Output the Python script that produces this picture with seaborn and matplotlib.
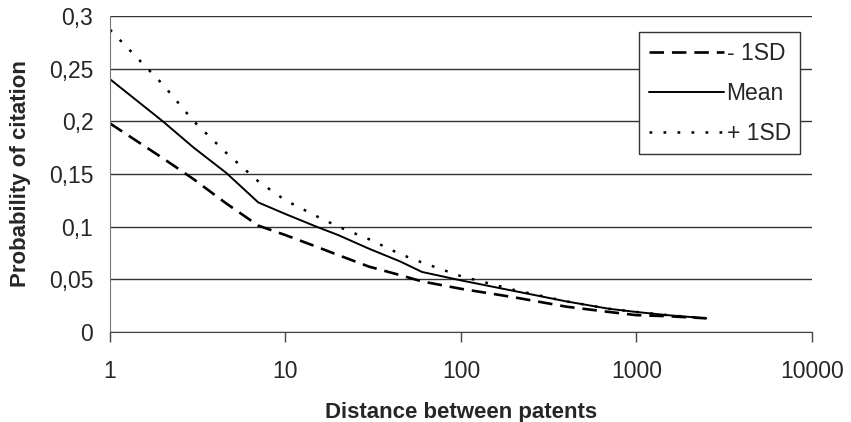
import matplotlib
matplotlib.use("Agg")
import matplotlib.pyplot as plt
import matplotlib.ticker as mticker
import seaborn as sns
import pandas as pd

# values
distance = [1, 2, 3, 4.6, 7, 10, 15, 20, 30, 45, 60, 100, 200, 400, 700, 1000, 1500, 2500]
minus_sd = [0.198, 0.165, 0.145, 0.122, 0.101, 0.092, 0.081, 0.073, 0.062, 0.054, 0.048,
            0.041, 0.033, 0.024, 0.019, 0.016, 0.015, 0.013]
mean = [0.240, 0.200, 0.175, 0.151, 0.123, 0.112, 0.100, 0.092, 0.079, 0.067, 0.057,
        0.049, 0.039, 0.029, 0.022, 0.019, 0.016, 0.013]
plus_sd = [0.287, 0.235, 0.200, 0.170, 0.143, 0.125, 0.110, 0.100, 0.088, 0.074, 0.066,
           0.053, 0.040, 0.029, 0.022, 0.019, 0.016, 0.013]

y_ticks = [0, 0.05, 0.1, 0.15, 0.2, 0.25, 0.3]
y_labels = ["0", "0,05", "0,1", "0,15", "0,2", "0,25", "0,3"]
x_ticks = [1, 10, 100, 1000, 10000]
x_labels = ["1", "10", "100", "1000", "10000"]

sns.set_style("white")
plt.rcParams['font.family'] = ['Liberation Sans', 'DejaVu Sans']

fig = plt.figure(figsize=(8.51, 4.22), dpi=100)
ax = fig.add_axes([0.1293, 0.2133, 0.8247, 0.7487])

df = pd.DataFrame({'Distance': distance, '- 1SD': minus_sd, 'Mean': mean, '+ 1SD': plus_sd})

# lower band, mean and upper band
sns.lineplot(x='Distance', y='- 1SD', data=df, ax=ax, color='black', lw=1.9, label='- 1SD')
ax.lines[-1].set_dashes((5.5, 3))
sns.lineplot(x='Distance', y='Mean', data=df, ax=ax, color='black', lw=1.4, label='Mean')
sns.lineplot(x='Distance', y='+ 1SD', data=df, ax=ax, color='black', lw=1.8, label='+ 1SD')
ax.lines[-1].set_dashes((1.1, 4.5))

ax.set_xscale('log')
ax.set_xlim(1, 10000)
ax.set_ylim(0, 0.3)
ax.set_xticks(x_ticks)
ax.set_xticklabels(x_labels)
ax.xaxis.set_minor_locator(mticker.NullLocator())
ax.set_yticks(y_ticks)
ax.set_yticklabels(y_labels)

ax.yaxis.grid(True, color='#333333', lw=1)
ax.set_axisbelow(True)
for s in ['top', 'right']:
    ax.spines[s].set_visible(False)
ax.spines['left'].set_color('#777777')
ax.spines['bottom'].set_color('#444444')
ax.tick_params(axis='y', length=7, width=1, color='#444444', labelsize=16.5, pad=5)
ax.tick_params(axis='x', length=7, width=1, color='#444444', direction='out',
               labelsize=16.5, pad=13, bottom=True)

ax.set_xlabel('Distance between patents', fontsize=16, fontweight='bold', labelpad=14)
ax.set_ylabel('Probability of citation', fontsize=16, fontweight='bold', labelpad=13)

leg = ax.legend(loc='upper right', bbox_to_anchor=(0.983, 0.948), fontsize=16.5,
                handlelength=3.3, handletextpad=0.1, frameon=True, fancybox=False,
                borderpad=0.4, borderaxespad=0, labelspacing=0.75, framealpha=1)
leg.get_frame().set_edgecolor('#333333')
leg.get_frame().set_linewidth(1)

plt.savefig('out.png', dpi=100)
